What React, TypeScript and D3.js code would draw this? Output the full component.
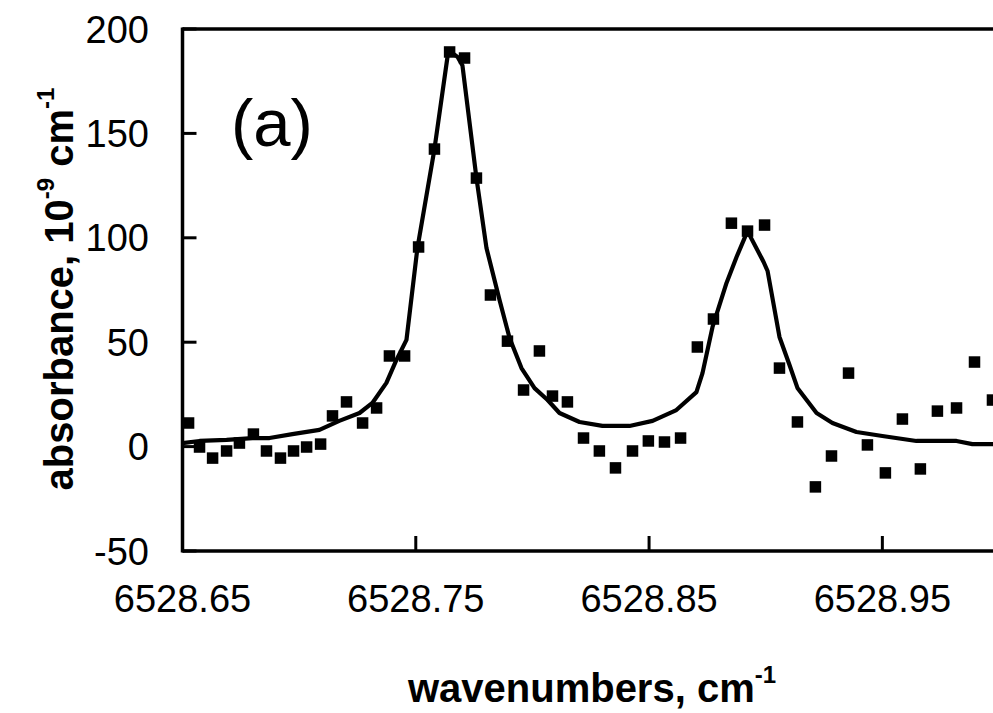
import React from "react";
import * as d3 from "d3";

// Measured data points (squares)
const markerWavenumber = [
  6528.6526, 6528.6573, 6528.6629, 6528.6689, 6528.6744, 6528.6804, 6528.686, 6528.692,
  6528.6976, 6528.7032, 6528.7092, 6528.7143, 6528.7203, 6528.7272, 6528.7332, 6528.7387,
  6528.7452, 6528.7512, 6528.758, 6528.7645, 6528.7709, 6528.776, 6528.782, 6528.7893,
  6528.7962, 6528.803, 6528.8086, 6528.815, 6528.8219, 6528.8287, 6528.8356, 6528.8429,
  6528.8497, 6528.8566, 6528.8635, 6528.8707, 6528.8776, 6528.8853, 6528.8922, 6528.8995,
  6528.9059, 6528.9136, 6528.9213, 6528.9282, 6528.9355, 6528.9436, 6528.9513, 6528.9586,
  6528.9663, 6528.9736, 6528.9818, 6528.9895, 6528.9972,
];
const markerAbsorbance = [
  11.3, -0.2, -5.5, -2.1, 1.7, 6.0, -2.1, -5.5,
  -2.1, -0.2, 1.2, 14.7, 21.4, 11.3, 18.5, 43.4,
  43.4, 95.6, 142.5, 189.0, 186.1, 128.6, 72.6, 50.5,
  27.1, 45.8, 24.2, 21.4, 4.1, -2.1, -10.2, -2.1,
  2.7, 2.2, 4.1, 47.7, 61.1, 107.0, 103.2, 106.1,
  37.6, 11.8, -19.3, -4.5, 35.2, 0.8, -12.6, 13.2,
  -10.7, 17.0, 18.5, 40.5, 22.3,
];

// Fitted profile (solid line)
const fitWavenumber = [
  6528.65, 6528.6573, 6528.6689, 6528.68, 6528.6873, 6528.6971, 6528.7087, 6528.7172,
  6528.7259, 6528.7314, 6528.7374, 6528.7417, 6528.746, 6528.7507, 6528.758, 6528.764,
  6528.768, 6528.770, 6528.776, 6528.7803, 6528.7859, 6528.7902, 6528.7953, 6528.8009,
  6528.8065, 6528.8116, 6528.8202, 6528.83, 6528.8416, 6528.8515, 6528.8617, 6528.8703,
  6528.8729, 6528.8772, 6528.8832, 6528.8875, 6528.8922, 6528.8991, 6528.9008, 6528.9059,
  6528.9102, 6528.9136, 6528.9218, 6528.9286, 6528.9389, 6528.95, 6528.9646, 6528.9818,
  6528.9886, 6529.0,
];
const fitAbsorbance = [
  1.7, 2.7, 3.2, 4.1, 4.1, 6.0, 8.0, 12.3,
  16.1, 20.9, 30.5, 41.5, 51.1, 95.1, 142.5, 189.9,
  186.5, 182.5, 128.6, 95.1, 70.2, 52.0, 37.6, 28.0,
  22.3, 16.1, 11.8, 9.9, 9.9, 12.3, 17.5, 26.1,
  35.2, 57.3, 78.4, 90.8, 103.2, 88.4, 84.1, 52.5,
  39.1, 28.1, 16.1, 11.3, 7.0, 5.1, 2.7, 2.7,
  1.2, 1.2,
];

const yTicks = [-50, 0, 50, 100, 150, 200];
const xTicks = [6528.65, 6528.75, 6528.85, 6528.95];
const xTickLabels = ["6528.65", "6528.75", "6528.85", "6528.95"];

const W = 993;
const H = 713;
const FONT = "Liberation Sans, Arial, Helvetica, sans-serif";

export default function App() {
  const x = d3.scaleLinear().domain([6528.65, 6529.0]).range([182.5, 999]);
  const y = d3.scaleLinear().domain([-50, 200]).range([551, 29]);

  const fitPts: [number, number][] = fitWavenumber.map((w, i) => [w, fitAbsorbance[i]]);
  const line = d3
    .line<[number, number]>()
    .x((d) => x(d[0]))
    .y((d) => y(d[1]));

  const left = x(6528.65);
  const top = y(200);
  const bottom = y(-50);
  const sq = 11.5;

  return (
    <svg
      width={W}
      height={H}
      viewBox={`0 0 ${W} ${H}`}
      style={{ position: "absolute", left: 0, top: 0, background: "#fff" }}
    >
      <rect x={0} y={0} width={W} height={H} fill="#fff" />
      {/* frame */}
      <line x1={left} x2={W} y1={top} y2={top} stroke="#000" strokeWidth={3.5} />
      <line x1={left} x2={W} y1={bottom} y2={bottom} stroke="#000" strokeWidth={3.5} />
      <line x1={left} x2={left} y1={top - 1.5} y2={bottom + 1.5} stroke="#000" strokeWidth={3.5} />

      {/* y ticks */}
      {yTicks.map((t) => (
        <g key={"y" + t}>
          <line x1={left} x2={left + 14} y1={y(t)} y2={y(t)} stroke="#000" strokeWidth={3} />
          <text
            x={149}
            y={y(t)}
            dy="0.36em"
            textAnchor="end"
            fontFamily={FONT}
            fontSize={38}
            fill="#000"
          >
            {t}
          </text>
        </g>
      ))}

      {/* x ticks */}
      {xTicks.map((t, i) => (
        <g key={"x" + t}>
          <line x1={x(t)} x2={x(t)} y1={bottom} y2={bottom - 15} stroke="#000" strokeWidth={3} />
          <text
            x={x(t)}
            y={612}
            textAnchor="middle"
            fontFamily={FONT}
            fontSize={38}
            fill="#000"
          >
            {xTickLabels[i]}
          </text>
        </g>
      ))}

      {/* fit line */}
      <path d={line(fitPts) || ""} fill="none" stroke="#000" strokeWidth={4.2} strokeLinejoin="round" />

      {/* data squares */}
      {markerWavenumber.map((w, i) => (
        <rect
          key={"m" + i}
          x={x(w) - sq / 2}
          y={y(markerAbsorbance[i]) - sq / 2}
          width={sq}
          height={sq}
          fill="#000"
        />
      ))}

      {/* panel label */}
      <text x={231} y={146} fontFamily={FONT} fontSize={67} fill="#000">
        (a)
      </text>

      {/* x title */}
      <text
        x={592}
        y={702}
        textAnchor="middle"
        fontFamily={FONT}
        fontSize={40}
        fontWeight="bold"
        fill="#000"
      >
        wavenumbers, cm
        <tspan fontSize={24} dy={-19}>-1</tspan>
      </text>

      {/* y title */}
      <text
        transform={`translate(73, 289) rotate(-90)`}
        textAnchor="middle"
        fontFamily={FONT}
        fontSize={40}
        fontWeight="bold"
        fill="#000"
      >
        absorbance, 10
        <tspan fontSize={24} dy={-19}>-9</tspan>
        <tspan dy={19}> cm</tspan>
        <tspan fontSize={24} dy={-19}>-1</tspan>
      </text>
    </svg>
  );
}
